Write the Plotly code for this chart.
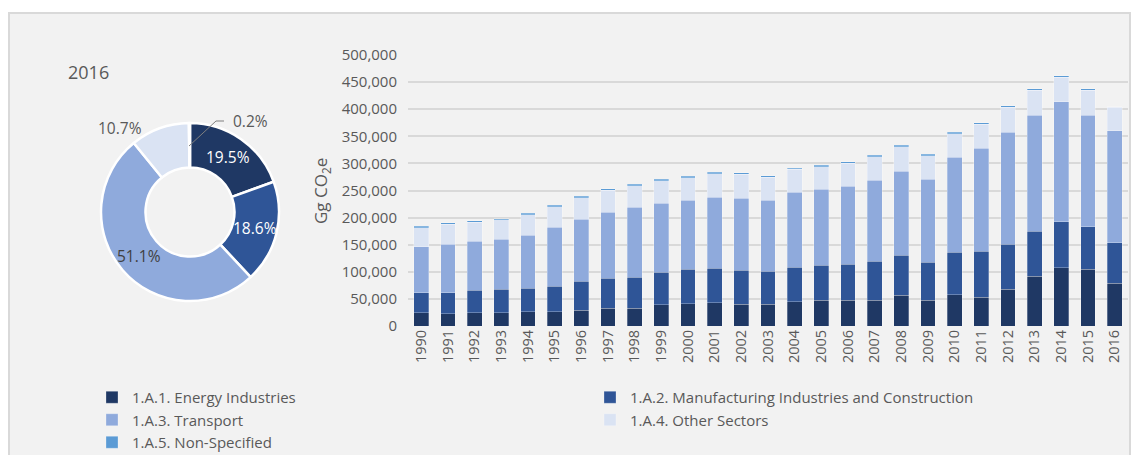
import math
import plotly.graph_objects as go

W, H = 1131, 455

years = [str(y) for y in range(1990, 2017)]
energy = [24600, 22800, 24600, 24600, 26400, 26400, 28900, 32600, 32600, 39400, 41200, 43000, 40000, 40000,
          44900, 47400, 47400, 47400, 56600, 47400, 57800, 52900, 67700, 91600, 107600, 104500, 78800]
manufacturing = [36900, 38700, 41200, 43100, 43100, 46800, 53500, 55300, 57200, 59600, 63300, 63400, 62700, 60900,
                 63300, 64500, 66400, 71900, 73800, 70100, 78100, 84900, 83000, 83100, 84900, 78800, 75200]
transport = [84900, 89200, 90400, 92200, 97800, 108800, 114400, 121800, 129100, 127300, 127400, 131000, 132800, 131000,
             138400, 140300, 143900, 149500, 155000, 153700, 175300, 190600, 206600, 214000, 220800, 205400, 206500]
other = [35000, 36900, 35100, 35700, 38100, 38200, 40000, 40600, 40000, 41800, 41800, 43600, 44300, 42400,
         42400, 41800, 42400, 43600, 45500, 43100, 43700, 43700, 46100, 46700, 45500, 46700, 43200]
non_specified = [2600, 2500, 2500, 2600, 2500, 2600, 2600, 2700, 2600, 2600, 2600, 2600, 2500, 2500,
                 2500, 2500, 2500, 2600, 2600, 2500, 2600, 2600, 2600, 2600, 2600, 2400, 800]

names = ["1.A.1. Energy Industries", "1.A.2. Manufacturing Industries and Construction",
         "1.A.3. Transport", "1.A.4. Other Sectors", "1.A.5. Non-Specified"]
colors = ["#1F3864", "#2F5597", "#8FAADC", "#DAE3F3", "#5B9BD5"]
series = [energy, manufacturing, transport, other, non_specified]

pie_year = "2016"
pie_vals = [s[-1] for s in series]

FONT = "Open Sans, Noto Sans, Liberation Sans, sans-serif"
GREY = "#595959"

def px(x):
    return x / W

def py(y):
    return 1 - y / H

fig = go.Figure()

for name, col, vals in zip(names, colors, series):
    fig.add_trace(go.Bar(x=years, y=vals, name=name,
                         marker=dict(color=col, line=dict(color="rgba(255,255,255,0.45)", width=0.6)),
                         xaxis="x", yaxis="y"))

# donut
cx, cy, R = 190, 212, 89
fig.add_trace(go.Pie(values=pie_vals, labels=names, sort=False, direction="clockwise", rotation=0,
                     hole=0.5, marker=dict(colors=colors, line=dict(color="white", width=2.5)),
                     textinfo="none", showlegend=False, hoverinfo="label+percent",
                     domain=dict(x=[px(cx - R), px(cx + R)], y=[py(cy + R), py(cy - R)])))

total = sum(pie_vals)
annotations = []
cum = 0
label_colors = ["white", "white", "#404040", GREY, GREY]
for i, v in enumerate(pie_vals):
    frac = v / total
    mid = (cum + frac / 2) * 2 * math.pi
    cum += frac
    txt = f"{frac*100:.1f}%"
    if i < 3:
        r = 67
        lx, ly = cx + r * math.sin(mid), cy - r * math.cos(mid)
    elif i == 3:
        lx, ly = 120, 128
    else:
        lx, ly = 250, 121
    annotations.append(dict(x=px(lx), y=py(ly), xref="paper", yref="paper", text=txt, showarrow=False,
                            font=dict(family=FONT, size=15.5, color=label_colors[i]),
                            xanchor="center", yanchor="middle"))

annotations.append(dict(x=px(88), y=py(72), xref="paper", yref="paper", text=pie_year, showarrow=False,
                        font=dict(family=FONT, size=18, color=GREY), xanchor="center", yanchor="middle"))
annotations.append(dict(x=px(321), y=py(191), xref="paper", yref="paper", text="Gg CO<sub>2</sub>e",
                        showarrow=False, textangle=-90, font=dict(family=FONT, size=17, color=GREY),
                        xanchor="center", yanchor="middle"))

shapes = [
    dict(type="rect", xref="paper", yref="paper", x0=px(9), x1=px(1130), y0=py(470), y1=py(13),
         fillcolor="#F2F2F2", line=dict(color="#D9D9D9", width=2), layer="below"),
    dict(type="path", xref="paper", yref="paper",
         path=f"M {px(189)},{py(146)} L {px(216)},{py(121)} L {px(224)},{py(121)}",
         line=dict(color="#7F7F7F", width=1)),
]

fig.update_layout(
    width=W, height=H,
    margin=dict(l=0, r=0, t=0, b=0, autoexpand=False),
    paper_bgcolor="white", plot_bgcolor="white",
    barmode="stack", bargap=0.44,
    font=dict(family=FONT, color=GREY),
    xaxis=dict(domain=[px(408), px(1128)], type="category", tickangle=-90, showgrid=False, showline=False,
               ticks="", tickfont=dict(size=14.5, color=GREY), anchor="y"),
    yaxis=dict(domain=[py(326), py(55)], range=[0, 500000], dtick=50000, tickformat=",",
               gridcolor="#D9D9D9", gridwidth=1.5, zeroline=False, showline=False, ticks="",
               tickfont=dict(size=15, color=GREY), anchor="x", ticklabelstandoff=10),
    legend=dict(orientation="h", x=px(92), y=py(381), xref="container", yref="container",
                xanchor="left", yanchor="top",
                bgcolor="rgba(0,0,0,0)", font=dict(family=FONT, size=15, color=GREY),
                entrywidth=453, traceorder="normal", tracegroupgap=0),
    annotations=annotations,
    shapes=shapes,
)

fig.write_html("out.html", config={"displayModeBar": False},
               post_script="document.body.style.margin='0px';document.body.style.padding='0px';document.body.style.overflow='hidden';")
